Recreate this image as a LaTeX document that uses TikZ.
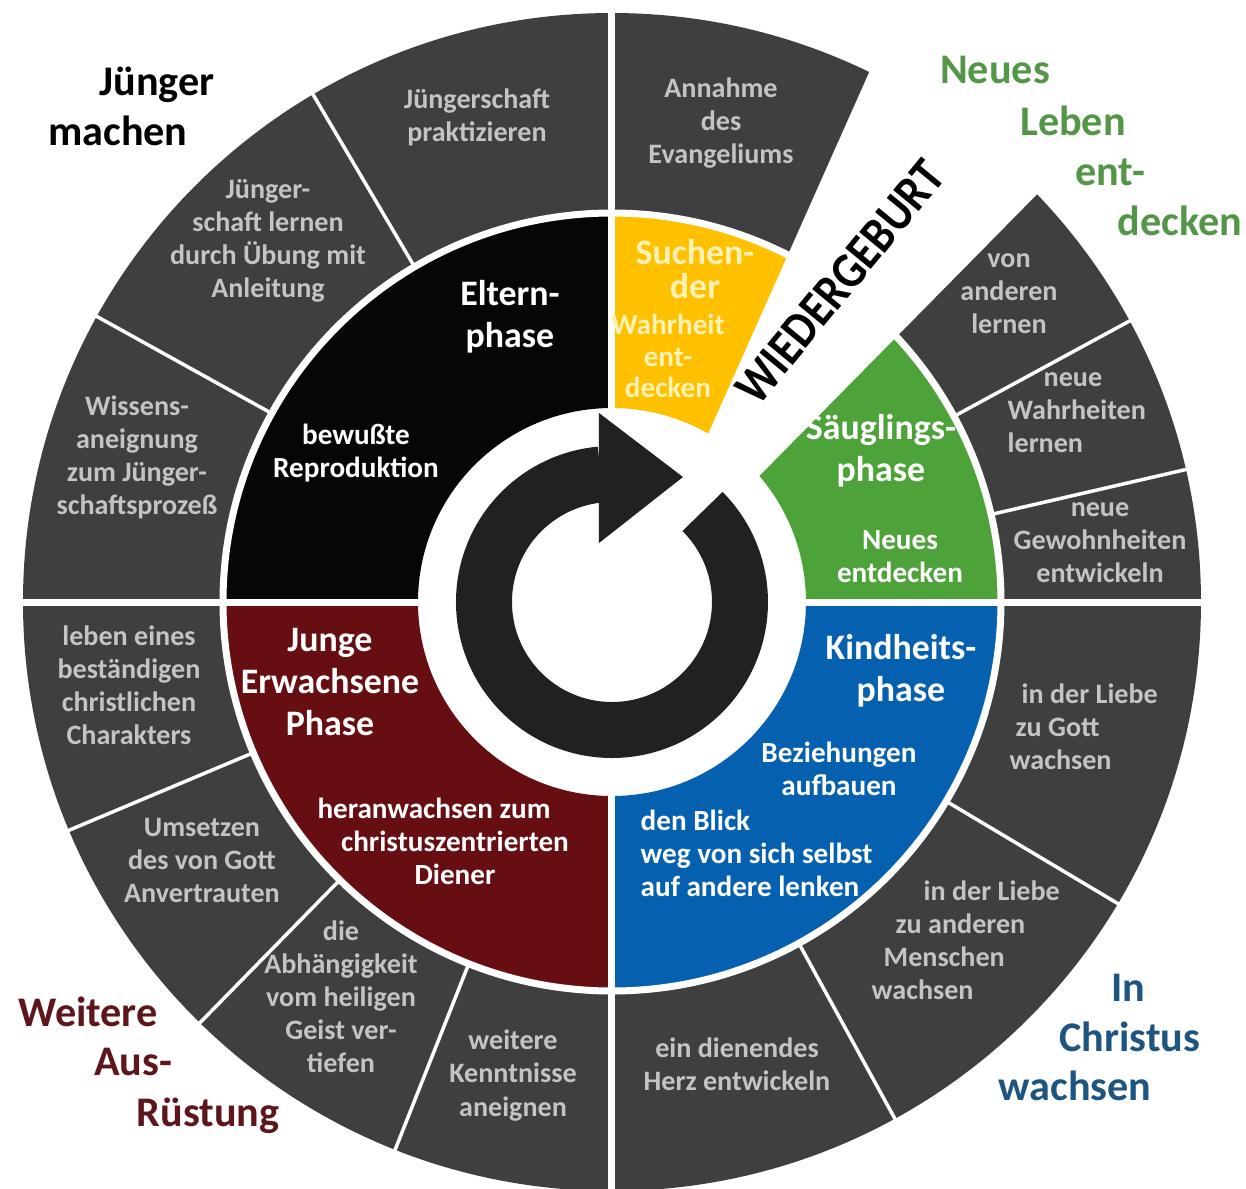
\documentclass[tikz,border=0pt]{standalone}
\usepackage{fontspec}
\setmainfont{Carlito}
\usepackage{xcolor}
\usepackage{tikz}
\usetikzlibrary{calc}
\definecolor{ringgray}{RGB}{64,63,64}
\definecolor{grayink}{RGB}{196,196,196}
\definecolor{elternblack}{RGB}{6,6,6}
\definecolor{suchgold}{RGB}{255,192,0}
\definecolor{suchink}{RGB}{255,242,180}
\definecolor{saeuglgreen}{RGB}{78,162,58}
\definecolor{kindblue}{RGB}{6,96,176}
\definecolor{jungmaroon}{RGB}{102,14,18}
\definecolor{cyclegray}{RGB}{35,32,33}
\definecolor{leafgreen}{RGB}{84,150,72}
\definecolor{wineink}{RGB}{92,22,28}
\definecolor{navyink}{RGB}{30,84,128}
\tikzset{
    segtext/.style={text=grayink, font=\bfseries\fontsize{8}{9.4}\selectfont, align=center, inner sep=0pt},
    phasetitle/.style={text=white, font=\bfseries\fontsize{10.2}{12}\selectfont, align=center, inner sep=0pt},
    phasesub/.style={text=white, font=\bfseries\fontsize{8.3}{9.4}\selectfont, align=center, inner sep=0pt},
    stagelabel/.style={font=\bfseries\fontsize{12}{14}\selectfont, anchor=base, inner sep=0pt},
    seam/.style={white, line width=0.07cm},
    thinseam/.style={white, line width=0.035cm}
}
\newcommand{\ringsector}[5]{% colour, from, to, inner radius, outer radius
    \fill[#1] (#2:#4) arc[start angle=#2, end angle=#3, radius=#4] -- (#3:#5) arc[start angle=#3, end angle=#2, radius=#5] -- cycle;}

\begin{document}
\begin{tikzpicture}
    \clip (-6.12,-5.86) rectangle (6.34,6.02);
    \fill[white] (-6.12,-5.86) rectangle (6.34,6.02);
    \fill[ringgray, even odd rule] (0,0) circle (5.89) circle (3.89); % outer ring
    \ringsector{elternblack}{90}{180}{1.94}{3.89}
    \ringsector{jungmaroon}{180}{270}{1.94}{3.89}
    \ringsector{kindblue}{270}{360}{1.94}{3.89}
    \ringsector{saeuglgreen}{0}{56}{1.94}{3.89}
    \ringsector{suchgold}{56}{90}{1.94}{3.89}
    \draw[seam] (0,0) circle (3.89);
    \foreach \a in {0,90,180,270} \draw[seam] (\a:1.8) -- (\a:6.2);
    \foreach \a in {13,28.5,120.5,151,202.8,225.6,248.4,298.7,329.2} \draw[thinseam] (\a:3.89) -- (\a:6.2);
    \fill[white] (0.2,-0.03) -- +(45.4:8) -- +(66:8) -- cycle; % gap for Wiedergeburt
    % cycle arrow
    \draw[cyclegray, line width=0.56cm] (45:1.28) arc[start angle=45, end angle=-265, radius=1.28];
    \fill[cyclegray] (-0.13,1.89) -- (-0.13,0.59) -- (0.71,1.25) -- cycle;
    \node[rotate=50.5, font=\bfseries\fontsize{14.5}{16}\selectfont, inner sep=0pt] (wiedergeburt) at (2.28,3.20) {\scalebox{0.867}[1]{WIEDERGEBURT}};

    % outer ring texts
    \node[segtext] (praktizieren) at (-1.35,4.845) {Jüngerschaft\\praktizieren};
    \node[segtext] (anleitung) at (-3.44,3.61) {Jünger-\\schaft lernen\\durch Übung mit\\Anleitung};
    \node[segtext] (wissen) at (-4.75,1.45) {Wissens-\\aneignung\\zum Jünger-\\schaftsprozeß};
    \node[segtext] (annahme) at (1.09,4.79) {Annahme\\des\\Evangeliums};
    \node[segtext] (vonanderen) at (3.97,3.085) {von\\anderen\\lernen};
    \node[segtext, align=left, anchor=west] (wahrheiten) at (3.95,1.895) {\hspace*{0.36cm}neue\\Wahrheiten\\lernen};
    \node[segtext] (gewohnheiten) at (4.88,0.59) {neue\\Gewohnheiten\\entwickeln};
    \node[segtext, align=left, anchor=west] (liebegott) at (3.97,-1.25) {\hspace*{0.12cm}in der Liebe\\\hspace*{0.06cm}zu Gott\\wachsen};
    \node[segtext, align=left, anchor=west] (liebemenschen) at (2.59,-3.385) {\hspace*{0.52cm}in der Liebe\\\hspace*{0.24cm}zu anderen\\\hspace*{0.12cm}Menschen\\wachsen};
    \node[segtext] (dienendes) at (1.25,-4.62) {ein dienendes\\Herz entwickeln};
    \node[segtext] (kenntnisse) at (-0.99,-4.735) {weitere\\Kenntnisse\\aneignen};
    \node[segtext] (abhaengigkeit) at (-2.71,-3.95) {die\\Abhängigkeit\\vom heiligen\\Geist ver-\\tiefen};
    \node[segtext] (umsetzen) at (-4.10,-2.585) {Umsetzen\\des von Gott\\Anvertrauten};
    \node[segtext] (charakter) at (-4.83,-0.83) {leben eines\\beständigen\\christlichen\\Charakters};

    % phase texts
    \node[phasetitle] (elterntitle) at (-1.02,2.85) {Eltern-\\phase};
    \node[phasesub] (elternsub) at (-2.56,1.49) {bewußte\\Reproduktion};
    \node[phasetitle, text=suchink, font=\bfseries\fontsize{10.2}{9.6}\selectfont] (suchtitle) at (0.83,3.33) {Suchen-\\der};
    \node[phasesub, text=suchink, font=\bfseries\fontsize{8.3}{8.9}\selectfont] (suchsub) at (0.56,2.46) {Wahrheit\\ent-\\decken};
    \node[phasetitle] (saeugltitle) at (2.69,1.51) {Säuglings-\\phase};
    \node[phasesub] (saeuglsub) at (2.88,0.455) {Neues\\entdecken};
    \node[phasetitle] (kindtitle) at (2.89,-0.69) {Kindheits-\\phase};
    \node[phasesub] (kindsub) at (2.27,-1.665) {Beziehungen\\aufbauen};
    \node[phasesub, align=left, anchor=west] (blicksub) at (0.28,-2.515) {den Blick\\weg von sich selbst\\auf andere lenken};
    \node[phasetitle] (jungtitle) at (-2.82,-0.80) {Junge\\Erwachsene\\Phase};
    \node[phasesub] (jungsub) at (-1.57,-2.395) {heranwachsen zum\hspace*{0.42cm}\\christuszentrierten\\Diener};

    % stage labels around the wheel
    \node[stagelabel] (juenger) at (-4.55,5.065) {Jünger};
    \node[stagelabel] (machen) at (-4.94,4.565) {machen};
    \node[stagelabel, text=leafgreen] (neues) at (3.83,5.185) {Neues};
    \node[stagelabel, text=leafgreen] (leben) at (4.61,4.665) {Leben};
    \node[stagelabel, text=leafgreen] (entdash) at (4.98,4.165) {ent-};
    \node[stagelabel, text=leafgreen] (decken) at (5.68,3.665) {decken};
    \node[stagelabel, text=wineink] (weitere) at (-5.24,-4.245) {Weitere};
    \node[stagelabel, text=wineink] (ausdash) at (-4.79,-4.735) {Aus-};
    \node[stagelabel, text=wineink] (ruestung) at (-4.04,-5.245) {Rüstung};
    \node[stagelabel, text=navyink] (inword) at (5.16,-3.995) {In};
    \node[stagelabel, text=navyink] (christus) at (5.18,-4.495) {Christus};
    \node[stagelabel, text=navyink] (wachsen) at (4.63,-4.985) {wachsen};
\end{tikzpicture}
\end{document}
